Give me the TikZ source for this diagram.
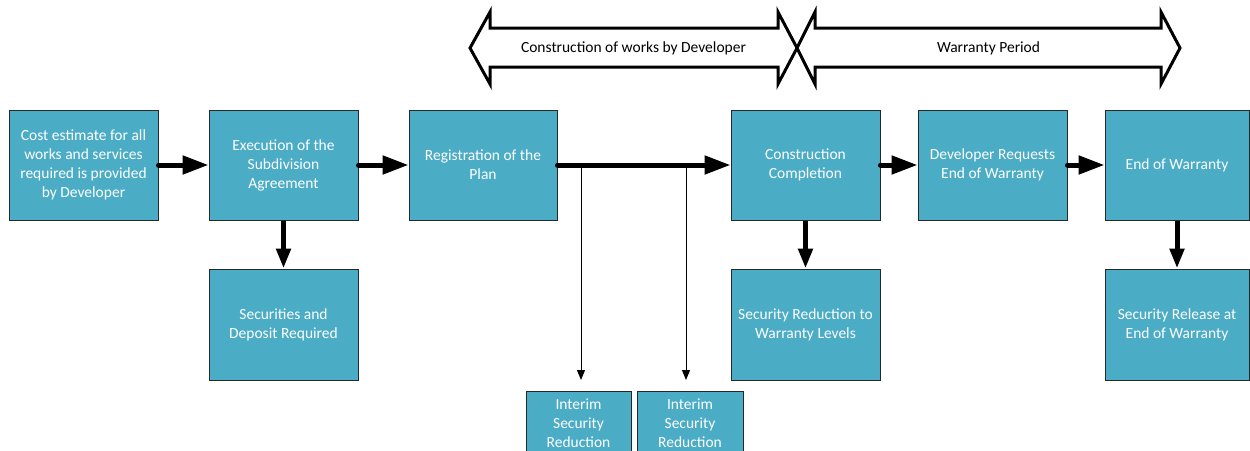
\documentclass[tikz,border=0pt]{standalone}
\usepackage{fontspec}
\setmainfont{Carlito}
\usetikzlibrary{arrows.meta}
\definecolor{boxfill}{RGB}{75,172,198}
\definecolor{boxline}{RGB}{40,40,40}
\tikzset{
  stage/.style={draw=boxline, line width=1pt, fill=boxfill, text=white,
    align=center, minimum width=149pt, minimum height=110pt,
    inner sep=2pt, font=\fontsize{15.5}{19}\selectfont},
  interim/.style={stage, minimum width=105pt, minimum height=64pt, anchor=north},
  flow/.style={line width=5pt, line cap=round, -{Triangle[length=26pt,width=18pt]}},
  drop/.style={line width=5pt, -{Triangle[length=20pt,width=14pt]}},
  thin/.style={line width=1pt, -{Triangle[length=10pt,width=8pt]}},
  period/.style={draw=black, line width=3pt, fill=white, line join=miter},
  periodtext/.style={font=\fontsize{15.5}{19}\selectfont},
}
\begin{document}
\begin{tikzpicture}[x=1pt,y=-1pt]
\useasboundingbox (0,0) rectangle (1250,450);
\clip (0,0) rectangle (1250,450);

% period arrows across the top
\draw[period] (470,48) -- (490,12) -- (490,28) -- (778,28) -- (778,12) -- (797,48)
  -- (778,84) -- (778,67) -- (490,67) -- (490,84) -- cycle;
\draw[period] (797,48) -- (815,12) -- (815,28) -- (1161,28) -- (1161,12) -- (1180,48)
  -- (1161,84) -- (1161,67) -- (815,67) -- (815,84) -- cycle;
\node[periodtext] (build) at (633.5,48) {Construction of works by Developer};
\node[periodtext] (warranty) at (988.5,48) {Warranty Period};

% main stages
\node[stage] (cost) at (83.5,165) {Cost estimate for all\\works and services\\required is provided\\by Developer};
\node[stage] (exec) at (283.5,165) {Execution of the\\Subdivision\\Agreement};
\node[stage, minimum width=148pt] (reg) at (483,165) {Registration of the\\Plan};
\node[stage] (done) at (805.5,165) {Construction\\Completion};
\node[stage] (req) at (992.5,165) {Developer Requests\\End of Warranty};
\node[stage, minimum width=144pt] (endw) at (1177,165) {End of Warranty};

% securities
\node[stage, minimum height=111pt] (dep) at (283.5,324.5) {Securities and\\Deposit Required};
\node[stage, minimum height=111pt] (red) at (805.5,324.5) {Security Reduction to\\Warranty Levels};
\node[stage, minimum width=144pt, minimum height=111pt] (rel) at (1177,324.5) {Security Release at\\End of Warranty};

% interim reductions
\node[interim] (int1) at (578.5,391) {Interim\\Security\\Reduction};
\node[interim, minimum width=106pt] (int2) at (690,391) {Interim\\Security\\Reduction};

% flow between stages
\draw[flow] (cost.east) -- (exec.west);
\draw[flow] (exec.east) -- (reg.west);
\draw[flow] (reg.east) -- (done.west);
\draw[flow] (done.east) -- (req.west);
\draw[flow] (req.east) -- (endw.west);

\draw[drop] (exec.south) -- (dep.north);
\draw[drop] (done.south) -- (red.north);
\draw[drop] (endw.south) -- (rel.north);

% branches to interim reductions
\coordinate (br1) at (581,165);
\coordinate (br2) at (686,165);
\draw[thin, shorten >=11pt] (br1) -- (br1 |- int1.north);
\draw[thin, shorten >=11pt] (br2) -- (br2 |- int2.north);
\end{tikzpicture}
\end{document}
